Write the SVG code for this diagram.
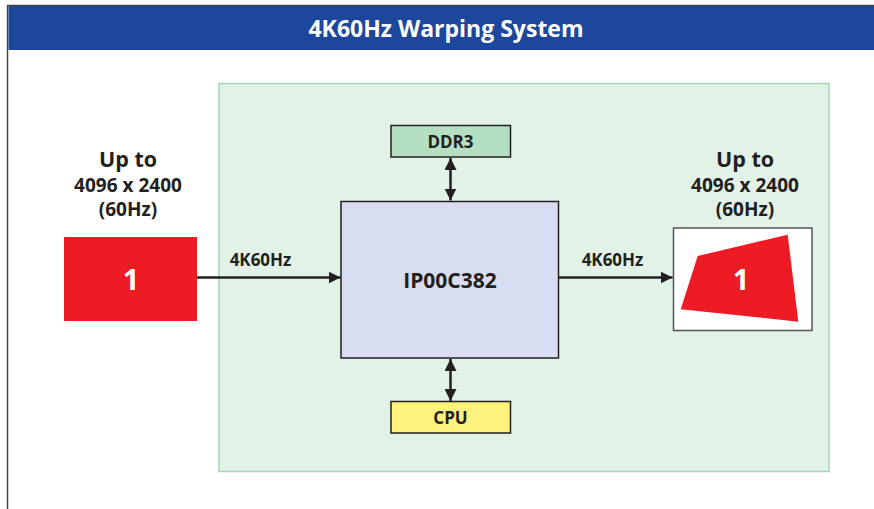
<svg xmlns="http://www.w3.org/2000/svg" width="874" height="509" viewBox="0 0 874 509">
<defs>
<style>
text{font-family:"Open Sans","Liberation Sans",sans-serif;font-weight:700;fill:#231f20;text-anchor:middle}
.hdr{fill:#fff;font-size:23px}
.big{font-size:21.5px}
.ip{font-size:21px}
.mid{font-size:19px}
.lbl{font-size:17px}
.num{fill:#fff;font-size:29px}
.box{stroke:#231f20;stroke-width:1.5}
.con{stroke:#231f20;stroke-width:2.5;fill:none}
</style>
<marker id="ah" viewBox="0 0 12 12" refX="12" refY="6" markerWidth="12" markerHeight="12" markerUnits="userSpaceOnUse" orient="auto-start-reverse">
<path d="M0,0 L12,6 L0,12 z" fill="#231f20"/>
</marker>
</defs>
<rect width="874" height="509" fill="#fff"/>
<g id="frame">
<path d="M7.5,509 V5.5 H874" fill="none" stroke="#444" stroke-width="1.5"/>
<rect x="8.5" y="6" width="866" height="44" fill="#1c479c"/>
<text class="hdr" x="446" y="36.5">4K60Hz Warping System</text>
</g>
<g id="container">
<rect x="219" y="83.5" width="610" height="388" fill="#e2f2e6" stroke="#9fd9b4" stroke-width="1.5"/>
</g>
<g id="input">
<text class="big" x="128" y="167">Up to</text>
<text class="mid" x="128" y="192">4096 x 2400</text>
<text class="mid" x="128" y="216">(60Hz)</text>
<rect x="64" y="237" width="133" height="84" fill="#ed1c24"/>
<text class="num" x="131" y="290">1</text>
</g>
<g id="output">
<text class="big" x="745" y="167">Up to</text>
<text class="mid" x="745" y="192">4096 x 2400</text>
<text class="mid" x="745" y="216">(60Hz)</text>
<rect x="673.5" y="228" width="138.5" height="102.5" fill="#fff" stroke="#555" stroke-width="1.5"/>
<polygon points="697.7,256 787.7,234.7 798.3,321.7 680.7,309.3" fill="#ed1c24"/>
<text class="num" x="741" y="290">1</text>
</g>
<g id="ddr3">
<rect class="box" x="391" y="125.5" width="119.5" height="31.5" fill="#b5dfc3"/>
<text class="lbl" x="450.5" y="148">DDR3</text>
</g>
<g id="ip">
<rect class="box" x="341" y="201.5" width="217.5" height="156.5" fill="#d8ddf1"/>
<text class="ip" x="450" y="288">IP00C382</text>
</g>
<g id="cpu">
<rect class="box" x="391" y="401.5" width="119.5" height="31.5" fill="#fdf17d"/>
<text class="lbl" x="450.5" y="424">CPU</text>
</g>
<g id="connectors">
<line class="con" x1="197" y1="277.5" x2="340.5" y2="277.5" marker-end="url(#ah)"/>
<line class="con" x1="559" y1="277.5" x2="672.5" y2="277.5" marker-end="url(#ah)"/>
<line class="con" x1="450.5" y1="158" x2="450.5" y2="200.5" marker-start="url(#ah)" marker-end="url(#ah)"/>
<line class="con" x1="450.5" y1="359" x2="450.5" y2="401" marker-start="url(#ah)" marker-end="url(#ah)"/>
<text class="lbl" x="260.5" y="266">4K60Hz</text>
<text class="lbl" x="612.5" y="266">4K60Hz</text>
</g>
</svg>
